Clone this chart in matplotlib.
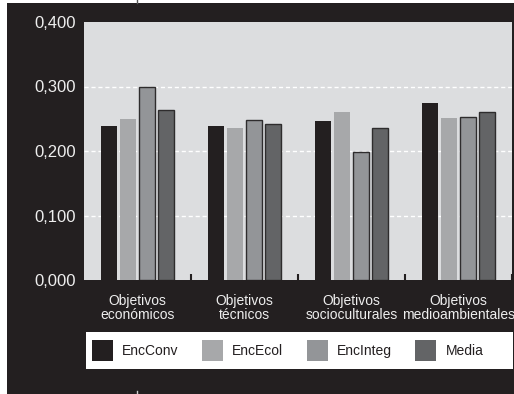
import matplotlib.pyplot as plt
from matplotlib.patches import Rectangle, Patch
from matplotlib.lines import Line2D
import numpy as np

plt.rcParams['font.family'] = ['Liberation Sans', 'DejaVu Sans']

categorias = ['Objetivos\neconómicos', 'Objetivos\ntécnicos',
              'Objetivos\nsocioculturales', 'Objetivos\nmedioambientales']
series = ['EncConv', 'EncEcol', 'EncInteg', 'Media']
enc_conv = [0.239, 0.239, 0.246, 0.274]
enc_ecol = [0.250, 0.236, 0.260, 0.251]
enc_integ = [0.300, 0.248, 0.199, 0.252]
media = [0.263, 0.242, 0.235, 0.260]
yticks = [0.0, 0.1, 0.2, 0.3, 0.4]
ytick_labels = ['0,000', '0,100', '0,200', '0,300', '0,400']

oscuro = '#231f20'
colores = [oscuro, '#a7a8aa', '#939598', '#636466']
bordes = [None, None, '#2e2c2d', '#2e2c2d']

W, H = 514, 394
fig = plt.figure(figsize=(W / 100, H / 100), dpi=100)
fig.patch.set_facecolor('white')
# fondo oscuro del recuadro
fig.add_artist(Rectangle((7 / W, 0), 1 - 7 / W, 1 - 3 / H, transform=fig.transFigure,
                         facecolor=oscuro, edgecolor='none', zorder=0))
fig.add_artist(Line2D([137 / W, 137 / W], [1 - 3 / H, 1], transform=fig.transFigure,
                      color='#555555', lw=1))
fig.add_artist(Line2D([137 / W, 137 / W], [0, 3 / H], transform=fig.transFigure,
                      color='#cccccc', lw=1))

ax = fig.add_axes([84 / W, (H - 280) / H, (512 - 84) / W, (280 - 22) / H])
ax.set_facecolor('#dcdddf')

x = np.arange(len(categorias))
offsets = [-0.266, -0.089, 0.089, 0.266]
ancho = 0.15
for vals, off, c, e, nombre in zip([enc_conv, enc_ecol, enc_integ, media], offsets,
                                  colores, bordes, series):
    ax.bar(x + off, vals, width=ancho, color=c,
           edgecolor=e if e else c, linewidth=1 if e else 0, zorder=3, label=nombre)

ax.set_xlim(-0.5, 3.5)
ax.set_ylim(0, 0.4)
ax.set_yticks(yticks)
ax.set_yticklabels(ytick_labels, color='#eeeeee', fontsize=12)
ax.tick_params(axis='y', length=0, pad=6)
# líneas guía blancas discontinuas (sin la del borde superior)
for y in yticks[1:-1]:
    ax.axhline(y, color='white', linestyle=(0, (3, 2)), linewidth=1, zorder=1)

ax.set_xticks(x)
ax.set_xticklabels(categorias, color='#eeeeee', fontsize=10, linespacing=1.0)
ax.tick_params(axis='x', which='major', length=0, pad=10)
ax.set_xticks([0.5, 1.5, 2.5, 3.5], minor=True)
ax.tick_params(axis='x', which='minor', direction='in', length=4.5, width=1.5, color=oscuro)

for s in ax.spines.values():
    s.set_visible(False)

# caja blanca de la leyenda
fig.add_artist(Rectangle((86 / W, (H - 369) / H), (513 - 86) / W, 37 / H,
                         transform=fig.transFigure, facecolor='white',
                         edgecolor='none', zorder=1))
handles = [Patch(facecolor=c, edgecolor='none') for c in colores]
leg = fig.legend(handles, series, loc='center left', ncol=4,
                 bbox_to_anchor=(92 / W, (H - 350.5) / H),
                 borderaxespad=0, borderpad=0, fontsize=10, frameon=False,
                 handlelength=1.51, handleheight=1.95, handletextpad=0.65,
                 columnspacing=1.7)
for t in leg.get_texts():
    t.set_color(oscuro)

fig.savefig('out.png', dpi=100, facecolor=fig.get_facecolor())
